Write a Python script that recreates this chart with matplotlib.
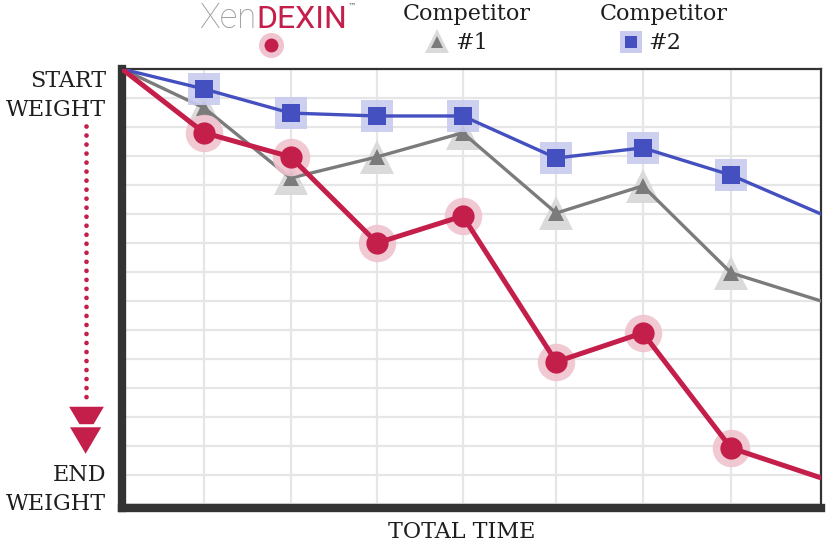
import matplotlib.pyplot as plt

# positions along the time axis (grid columns) and weight drop in grid units
tempo = [0, 0.94, 1.93, 2.92, 3.9, 4.97, 5.96, 6.97, 8]
xendexin = [0, 2.2, 3.03, 6.0, 5.07, 10.1, 9.1, 13.07, 14.1]
competidor1 = [0, 1.34, 3.76, 3.03, 2.2, 4.97, 4.03, 7.03, 8.0]
competidor2 = [0, 0.69, 1.52, 1.62, 1.62, 3.07, 2.72, 3.66, 5.0]
grade_x = [0.94, 1.93, 2.92, 3.9, 4.97, 5.96, 6.97]

vermelho = '#c41f4b'
azul = '#4450c0'
cinza = '#7b7b7b'
escuro = '#333333'
texto = '#1e1e1e'
fonte = 'DejaVu Serif'

fig = plt.figure(figsize=(8.3, 5.48), dpi=100)
ax = fig.add_axes([122 / 830, 1 - 508 / 548, 699 / 830, 439 / 548])

ax.set_xlim(0, 8)
ax.set_ylim(15.14, 0)
for gx in grade_x:
    ax.axvline(gx, color='#e6e6e6', lw=1.6, zorder=0)
for gy in range(1, 16):
    ax.axhline(gy, color='#e6e6e6', lw=1.6, zorder=0)

ax.set_xticks([])
ax.set_yticks([])
ax.spines['left'].set_linewidth(6)
ax.spines['bottom'].set_linewidth(6)
ax.spines['top'].set_linewidth(1.6)
ax.spines['right'].set_linewidth(1.6)
for s in ax.spines.values():
    s.set_color(escuro)

# competidor 1 (cinza)
ax.plot(tempo[1:-1], competidor1[1:-1], '^', ms=25, color='#dadada', mew=0, zorder=2)
ax.plot(tempo, competidor1, '-', color=cinza, lw=2.4, zorder=3)
ax.plot(tempo[1:-1], competidor1[1:-1], '^', ms=12, color=cinza, mew=0, zorder=3)

# competidor 2 (azul)
ax.plot(tempo[1:-1], competidor2[1:-1], 's', ms=23, color='#c9cbef', mew=0, alpha=0.9, zorder=4)
ax.plot(tempo, competidor2, '-', color=azul, lw=2.4, zorder=5)
ax.plot(tempo[1:-1], competidor2[1:-1], 's', ms=13, color=azul, mew=0, zorder=5)

# xendexin (vermelho)
ax.plot(tempo[1:-1], xendexin[1:-1], 'o', ms=27, color='#efc3cf', mew=0, alpha=0.9, zorder=6)
ax.plot(tempo, xendexin, '-', color=vermelho, lw=3.6, zorder=7)
ax.plot(tempo[1:-1], xendexin[1:-1], 'o', ms=16, color=vermelho, mew=0, zorder=7)

# camada de decoracao em pixels
deco = fig.add_axes([0, 0, 1, 1])
deco.set_xlim(0, 830)
deco.set_ylim(548, 0)
deco.axis('off')
deco.patch.set_alpha(0)

seta = [(-1, 0.85), (1, 0.85), (0, -0.85)]
deco.plot([86, 86], [126, 402], linestyle=(0, (0.01, 1.9)), color=vermelho, lw=3.4,
          dash_capstyle='round')
deco.plot(86, 421, marker=seta, ms=25, color=vermelho, mew=0, ls='none')
deco.plot(86, 440, marker=seta, ms=25, color=vermelho, mec='white', mew=2.2, ls='none')

deco.text(106, 81, 'START', ha='right', va='center', fontsize=16, family=fonte, color=texto)
deco.text(106, 110, 'WEIGHT', ha='right', va='center', fontsize=16, family=fonte, color=texto)
deco.text(106, 475, 'END', ha='right', va='center', fontsize=16, family=fonte, color=texto)
deco.text(106, 504, 'WEIGHT', ha='right', va='center', fontsize=16, family=fonte, color=texto)
deco.text(462, 532, 'TOTAL TIME', ha='center', va='center', fontsize=16, family=fonte, color=texto)

# legenda
deco.text(256, 28, 'Xen', ha='right', va='baseline', fontsize=25, color='#9a9a9a',
          family='Roboto', weight='light')
deco.text(256, 28, 'DEXIN', ha='left', va='baseline', fontsize=23, color=vermelho,
          family='Roboto', weight='normal')
deco.text(348, 6, '™', ha='left', va='center', fontsize=6, color='#555555')
deco.plot(271, 45, 'o', ms=18, color='#efc3cf', mew=0)
deco.plot(271, 45, 'o', ms=10, color=vermelho, mew=0)

deco.text(467, 14, 'Competitor', ha='center', va='center', fontsize=16, family=fonte, color=texto)
deco.plot(437, 41, '^', ms=17, color='#dadada', mew=0)
deco.plot(437, 42, '^', ms=9, color=cinza, mew=0)
deco.text(455, 43, '#1', ha='left', va='center', fontsize=16, family=fonte, color=texto)

deco.text(664, 14, 'Competitor', ha='center', va='center', fontsize=16, family=fonte, color=texto)
deco.plot(631, 42, 's', ms=16, color='#c9cbef', mew=0)
deco.plot(631, 42, 's', ms=9, color=azul, mew=0)
deco.text(648, 43, '#2', ha='left', va='center', fontsize=16, family=fonte, color=texto)

fig.savefig('out.png', dpi=100)
